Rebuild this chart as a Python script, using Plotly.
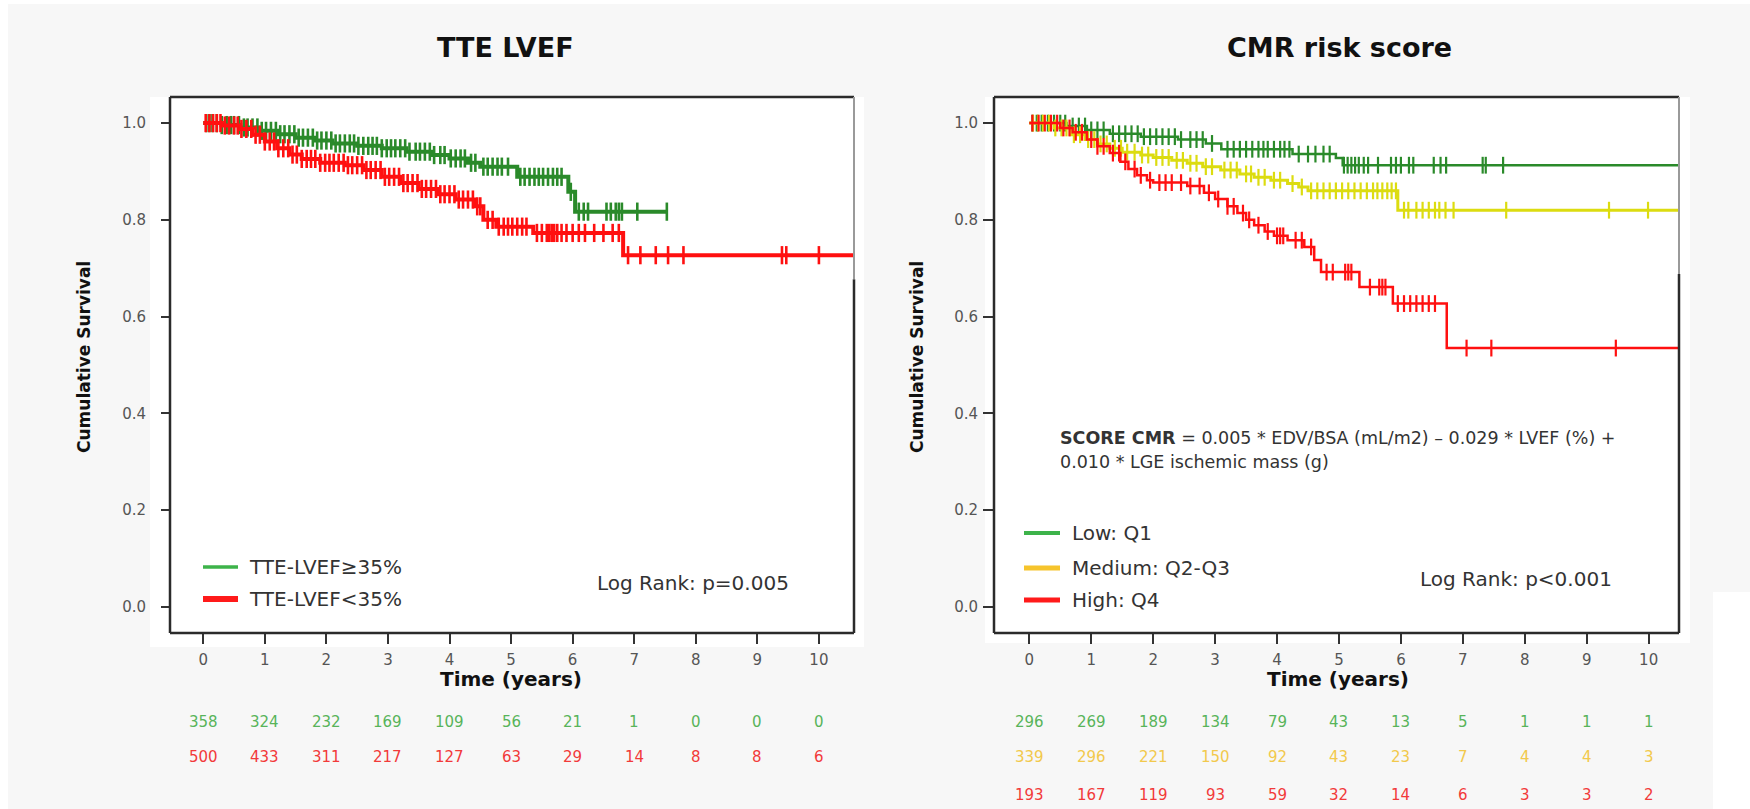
import numpy as np
import plotly.graph_objects as go

W, H = 1750, 809
FONT = "DejaVu Sans"

# ---------------- data ----------------
years = [0, 1, 2, 3, 4, 5, 6, 7, 8, 9, 10]
y_ticks = [0.0, 0.2, 0.4, 0.6, 0.8, 1.0]
y_tick_labels = ["0.0", "0.2", "0.4", "0.6", "0.8", "1.0"]

# Left panel: TTE LVEF
lg_name = "TTE-LVEF≥35%"
lg_t = [0, 0.3, 0.6, 0.9, 1.2, 1.5, 1.8, 2.1, 2.5, 2.9, 3.3, 3.7, 4.0, 4.3, 4.5, 5.1, 5.93, 6.04, 7.53]
lg_s = [1.0, 0.996, 0.991, 0.984, 0.977, 0.970, 0.964, 0.958, 0.953, 0.948, 0.941, 0.934, 0.927, 0.918, 0.910, 0.889, 0.858, 0.817, 0.817]
lg_cens = [0.05, 0.1, 0.15, 0.22, 0.3, 0.38, 0.45, 0.5, 0.58, 0.66, 0.72, 0.8, 0.88, 0.95, 1.02, 1.1, 1.18,
           1.25, 1.32, 1.4, 1.48, 1.55, 1.62, 1.7, 1.78, 1.85, 1.92, 2.0, 2.08, 2.15, 2.22, 2.3, 2.38, 2.45,
           2.52, 2.6, 2.68, 2.75, 2.82, 2.9, 2.98, 3.05, 3.12, 3.2, 3.28, 3.35, 3.45, 3.52, 3.6, 3.68, 3.75,
           3.85, 3.92, 4.02, 4.1, 4.18, 4.25, 4.35, 4.42, 4.55, 4.62, 4.7, 4.78, 4.85, 4.95, 5.15, 5.22, 5.3,
           5.38, 5.45, 5.52, 5.6, 5.68, 5.75, 5.82, 5.97, 6.1, 6.18, 6.25, 6.55, 6.62, 6.7, 6.75, 6.8, 7.05, 7.53]

lr_name = "TTE-LVEF<35%"
lr_t = [0, 0.3, 0.6, 0.8, 1.0, 1.2, 1.4, 1.6, 1.9, 2.3, 2.6, 2.9, 3.2, 3.5, 3.8, 4.1, 4.4, 4.55, 4.76, 5.36, 6.82, 10.6]
lr_s = [1.0, 0.995, 0.988, 0.976, 0.962, 0.948, 0.935, 0.926, 0.918, 0.913, 0.903, 0.889, 0.876, 0.864, 0.853,
        0.842, 0.828, 0.800, 0.786, 0.773, 0.727, 0.727]
lr_cens = [0.04, 0.1, 0.16, 0.22, 0.28, 0.35, 0.42, 0.5, 0.56, 0.62, 0.7, 0.78, 0.85, 0.92, 1.0, 1.08, 1.15,
           1.22, 1.3, 1.38, 1.45, 1.52, 1.6, 1.68, 1.75, 1.82, 1.9, 1.98, 2.05, 2.12, 2.2, 2.28, 2.35, 2.42,
           2.5, 2.58, 2.65, 2.72, 2.8, 2.88, 2.95, 3.02, 3.1, 3.18, 3.25, 3.32, 3.4, 3.48, 3.55, 3.62, 3.7,
           3.78, 3.85, 3.92, 4.0, 4.08, 4.15, 4.22, 4.3, 4.38, 4.45, 4.5, 4.62, 4.7, 4.8, 4.88, 4.95, 5.02,
           5.1, 5.18, 5.25, 5.42, 5.5, 5.58, 5.62, 5.66, 5.7, 5.75, 5.82, 5.9, 6.0, 6.1, 6.2, 6.35, 6.5,
           6.65, 6.75, 6.9, 7.1, 7.35, 7.55, 7.8, 9.4, 9.47, 10.0]

# Right panel: CMR risk score
rg_name = "Low: Q1"
rg_t = [0, 0.6, 0.93, 1.3, 1.8, 2.4, 2.85, 3.1, 4.25, 4.95, 5.06, 10.5]
rg_s = [1.0, 0.994, 0.986, 0.978, 0.972, 0.966, 0.958, 0.946, 0.936, 0.928, 0.913, 0.913]
rg_cens = [0.05, 0.12, 0.2, 0.3, 0.4, 0.5, 0.58, 0.7, 0.8, 0.9, 1.0, 1.1, 1.2, 1.35, 1.45, 1.55, 1.65, 1.75,
           1.85, 1.95, 2.05, 2.15, 2.25, 2.35, 2.45, 2.6, 2.7, 2.8, 2.95, 3.2, 3.3, 3.4, 3.5, 3.6, 3.7, 3.78,
           3.85, 3.95, 4.05, 4.12, 4.2, 4.35, 4.5, 4.62, 4.75, 4.85, 5.08, 5.14, 5.2, 5.26, 5.32, 5.4, 5.47,
           5.63, 5.84, 5.92, 6.0, 6.13, 6.2, 6.53, 6.64, 6.73, 7.32, 7.37, 7.65]

ry_name = "Medium: Q2-Q3"
ry_t = [0, 0.4, 0.66, 0.9, 1.1, 1.3, 1.5, 1.8, 2.0, 2.3, 2.55, 2.8, 3.09, 3.4, 3.63, 3.9, 4.17, 4.35, 4.5, 5.95, 10.5]
ry_s = [1.0, 0.99, 0.976, 0.966, 0.957, 0.948, 0.940, 0.934, 0.929, 0.923, 0.917, 0.910, 0.903, 0.895, 0.888,
        0.882, 0.875, 0.868, 0.860, 0.820, 0.820]
ry_cens = [0.06, 0.14, 0.22, 0.32, 0.42, 0.52, 0.6, 0.72, 0.82, 0.95, 1.05, 1.15, 1.25, 1.38, 1.48, 1.58, 1.7,
           1.82, 1.92, 2.05, 2.15, 2.25, 2.38, 2.48, 2.6, 2.7, 2.85, 2.95, 3.15, 3.25, 3.35, 3.5, 3.58, 3.7,
           3.8, 3.95, 4.05, 4.25, 4.4, 4.55, 4.65, 4.75, 4.85, 4.95, 5.05, 5.15, 5.25, 5.35, 5.45, 5.55, 5.62,
           5.7, 5.78, 5.85, 5.92, 6.05, 6.12, 6.25, 6.35, 6.45, 6.55, 6.62, 6.72, 6.85, 7.7, 9.36, 9.99]

rr_name = "High: Q4"
rr_t = [0, 0.5, 0.7, 0.93, 1.1, 1.3, 1.47, 1.6, 1.74, 1.9, 2.0, 2.55, 2.82, 3.0, 3.2, 3.36, 3.5, 3.63, 3.8,
        3.95, 4.17, 4.44, 4.6, 4.71, 5.33, 5.87, 6.74, 10.5]
rr_s = [1.0, 0.99, 0.981, 0.966, 0.952, 0.938, 0.920, 0.905, 0.892, 0.882, 0.877, 0.870, 0.856, 0.843, 0.828,
        0.814, 0.800, 0.789, 0.776, 0.767, 0.758, 0.744, 0.717, 0.692, 0.661, 0.627, 0.535, 0.535]
rr_cens = [0.05, 0.15, 0.25, 0.35, 0.45, 0.55, 0.65, 0.75, 0.85, 1.0, 1.1, 1.2, 1.35, 1.45, 1.55, 1.7, 1.8,
           1.95, 2.1, 2.2, 2.3, 2.45, 2.6, 2.75, 2.9, 3.05, 3.2, 3.3, 3.45, 3.55, 3.7, 3.85, 4.0, 4.05, 4.1,
           4.3, 4.4, 4.55, 4.8, 4.9, 5.1, 5.15, 5.2, 5.5, 5.65, 5.7, 5.75, 5.95, 6.05, 6.15, 6.25, 6.35, 6.45,
           6.55, 7.06, 7.46, 9.47]

# Numbers at risk
nar_left = {
    "ge35": [358, 324, 232, 169, 109, 56, 21, 1, 0, 0, 0],
    "lt35": [500, 433, 311, 217, 127, 63, 29, 14, 8, 8, 6],
}
nar_right = {
    "low": [296, 269, 189, 134, 79, 43, 13, 5, 1, 1, 1],
    "medium": [339, 296, 221, 150, 92, 43, 23, 7, 4, 4, 3],
    "high": [193, 167, 119, 93, 59, 32, 14, 6, 3, 3, 2],
}

title_left = "TTE LVEF"
title_right = "CMR risk score"
logrank_left = "Log Rank: p=0.005"
logrank_right = "Log Rank: p<0.001"
score_line1 = "<b>SCORE CMR</b> = 0.005 * EDV/BSA (mL/m2) – 0.029 * LVEF (%) +"
score_line2 = "0.010 * LGE ischemic mass (g)"

# ---------------- styles ----------------
C_GREEN = "#2a8a2a"
C_RED = "#ff1010"
C_YELLOW = "#dcdc10"
L_GREEN = "#3db34a"
L_RED = "#ff1a1a"
L_YELLOW = "#f6c42c"
N_GREEN = "#58b45a"
N_RED = "#f23a3a"
N_YELLOW = "#f2c94c"


def px(x):
    return x / W


def py(y):
    return 1 - y / H


def step_at(tk, sk, times):
    idx = np.searchsorted(np.array(tk), np.array(times), side="right") - 1
    return [sk[i] for i in idx]


fig = go.Figure()


def add_curve(t, s, cens, color, xa, ya, lw, msize, mlw):
    fig.add_trace(go.Scatter(x=t, y=s, mode="lines", line=dict(color=color, width=lw, shape="hv"),
                             xaxis=xa, yaxis=ya, hoverinfo="skip"))
    fig.add_trace(go.Scatter(x=cens, y=step_at(t, s, cens), mode="markers",
                             marker=dict(symbol="line-ns", size=msize, line=dict(color=color, width=mlw)),
                             xaxis=xa, yaxis=ya, hoverinfo="skip"))


add_curve(lg_t, lg_s, lg_cens, C_GREEN, "x", "y", 4, 13, 2.6)
add_curve(lr_t, lr_s, lr_cens, C_RED, "x", "y", 4, 13, 2.6)
add_curve(rg_t, rg_s, rg_cens, C_GREEN, "x2", "y2", 2.5, 12, 2.2)
add_curve(ry_t, ry_s, ry_cens, C_YELLOW, "x2", "y2", 3, 12, 2.2)
add_curve(rr_t, rr_s, rr_cens, C_RED, "x2", "y2", 2.5, 12, 2.2)

# axis geometry (pixels)
L_X0, L_X1 = 170, 854
R_X0, R_X1 = 994, 1679
Y_TOP, Y_BOT = 97, 633

axis_common = dict(showgrid=False, zeroline=False, showline=False, ticks="outside",
                   tickcolor="#333", tickwidth=2, tickfont=dict(family=FONT, size=15, color="#555"))

fig.update_layout(
    width=W, height=H, margin=dict(l=0, r=0, t=0, b=0), autosize=False,
    paper_bgcolor="#f7f7f7", plot_bgcolor="#ffffff", showlegend=False,
    font=dict(family=FONT),
    xaxis=dict(domain=[px(L_X0), px(L_X1)], range=[-0.54, 10.57], tickvals=years, ticklen=10,
               anchor="y", ticklabelstandoff=3, **axis_common),
    yaxis=dict(domain=[py(Y_BOT), py(Y_TOP)], range=[-0.054, 1.054], tickvals=y_ticks,
               ticktext=y_tick_labels, ticklen=8, anchor="x", ticklabelstandoff=12, **axis_common),
    xaxis2=dict(domain=[px(R_X0), px(R_X1)], range=[-0.57, 10.49], tickvals=years, ticklen=10,
                anchor="y2", ticklabelstandoff=3, **axis_common),
    yaxis2=dict(domain=[py(Y_BOT), py(Y_TOP)], range=[-0.054, 1.054], tickvals=y_ticks,
                ticktext=y_tick_labels, ticklen=10, anchor="x2", ticklabelstandoff=2, **axis_common),
)

shapes = []
# white borders of the page
shapes.append(dict(type="rect", xref="paper", yref="paper", x0=0, x1=1, y0=py(4), y1=1,
                   fillcolor="white", line_width=0, layer="below"))
shapes.append(dict(type="rect", xref="paper", yref="paper", x0=0, x1=px(8), y0=0, y1=1,
                   fillcolor="white", line_width=0, layer="below"))
# white panels around plots
shapes.append(dict(type="rect", xref="paper", yref="paper", x0=px(150), x1=px(864), y0=py(647), y1=py(Y_TOP),
                   fillcolor="white", line_width=0, layer="below"))
shapes.append(dict(type="rect", xref="paper", yref="paper", x0=px(985), x1=px(1690), y0=py(643), y1=py(Y_TOP),
                   fillcolor="white", line_width=0, layer="below"))
shapes.append(dict(type="rect", xref="paper", yref="paper", x0=px(1713), x1=1, y0=0, y1=py(592),
                   fillcolor="white", line_width=0, layer="below"))

# plot frames
for xr, yr, split in (("x domain", "y domain", 0.66), ("x2 domain", "y2 domain", 0.67)):
    dark = dict(color="#2b2b2b", width=2.5)
    shapes.append(dict(type="line", xref=xr, yref=yr, x0=0, x1=1, y0=1, y1=1, line=dark))
    shapes.append(dict(type="line", xref=xr, yref=yr, x0=0, x1=1, y0=0, y1=0, line=dark))
    shapes.append(dict(type="line", xref=xr, yref=yr, x0=0, x1=0, y0=0, y1=1, line=dark))
    shapes.append(dict(type="line", xref=xr, yref=yr, x0=1, x1=1, y0=0, y1=split, line=dark))
    shapes.append(dict(type="line", xref=xr, yref=yr, x0=1, x1=1, y0=split, y1=1,
                       line=dict(color="#9a9a9a", width=2)))

# legend swatches
for x0, x1, y, c, w in ((203, 238, 567, L_GREEN, 3.5), (203, 238, 599, L_RED, 6),
                        (1024, 1060, 533, L_GREEN, 4), (1024, 1060, 568, L_YELLOW, 5),
                        (1024, 1060, 600, L_RED, 5)):
    shapes.append(dict(type="line", xref="paper", yref="paper", x0=px(x0), x1=px(x1), y0=py(y), y1=py(y),
                       line=dict(color=c, width=w)))
fig.update_layout(shapes=shapes)

ann = []


def text(x, y, s, size, color="#222", bold=False, xanchor="center", angle=0, xref="paper"):
    ann.append(dict(x=x, y=y, xref=xref, yref="paper", text=(f"<b>{s}</b>" if bold else s),
                    showarrow=False, xanchor=xanchor, yanchor="middle", textangle=angle,
                    font=dict(family=FONT, size=size, color=color)))


# titles
text(px(505), py(47), title_left, 27, "#111", bold=True)
text(px(1339), py(47), title_right, 27, "#111", bold=True)
# y-axis titles
text(px(84), py(357), "Cumulative Survival", 17, "#111", bold=True, angle=-90)
text(px(917), py(357), "Cumulative Survival", 17, "#111", bold=True, angle=-90)
# x-axis titles
text(px(511), py(679), "Time (years)", 20, "#111", bold=True)
text(px(1338), py(679), "Time (years)", 20, "#111", bold=True)
# legends
text(px(247), py(567), lg_name, 20, "#333", xanchor="left")
text(px(247), py(599), lr_name, 20, "#333", xanchor="left")
text(px(1070), py(533), rg_name, 20, "#333", xanchor="left")
text(px(1070), py(568), ry_name, 20, "#333", xanchor="left")
text(px(1070), py(600), rr_name, 20, "#333", xanchor="left")
# log rank
text(px(595), py(583), logrank_left, 20, "#333", xanchor="left")
text(px(1418), py(579), logrank_right, 20, "#333", xanchor="left")
# score formula
text(px(1058), py(438), score_line1, 17.5, "#333", xanchor="left")
text(px(1058), py(462), score_line2, 17.5, "#333", xanchor="left")

# numbers at risk
for vals, yy, col in ((nar_left["ge35"], 722, N_GREEN), (nar_left["lt35"], 757, N_RED)):
    for t, v in zip(years, vals):
        text(t, py(yy), str(v), 15, col, xref="x")
for vals, yy, col in ((nar_right["low"], 722, N_GREEN), (nar_right["medium"], 757, N_YELLOW),
                      (nar_right["high"], 795, N_RED)):
    for t, v in zip(years, vals):
        text(t, py(yy), str(v), 15, col, xref="x2")

fig.update_layout(annotations=ann)
fig.write_html("out.html")
